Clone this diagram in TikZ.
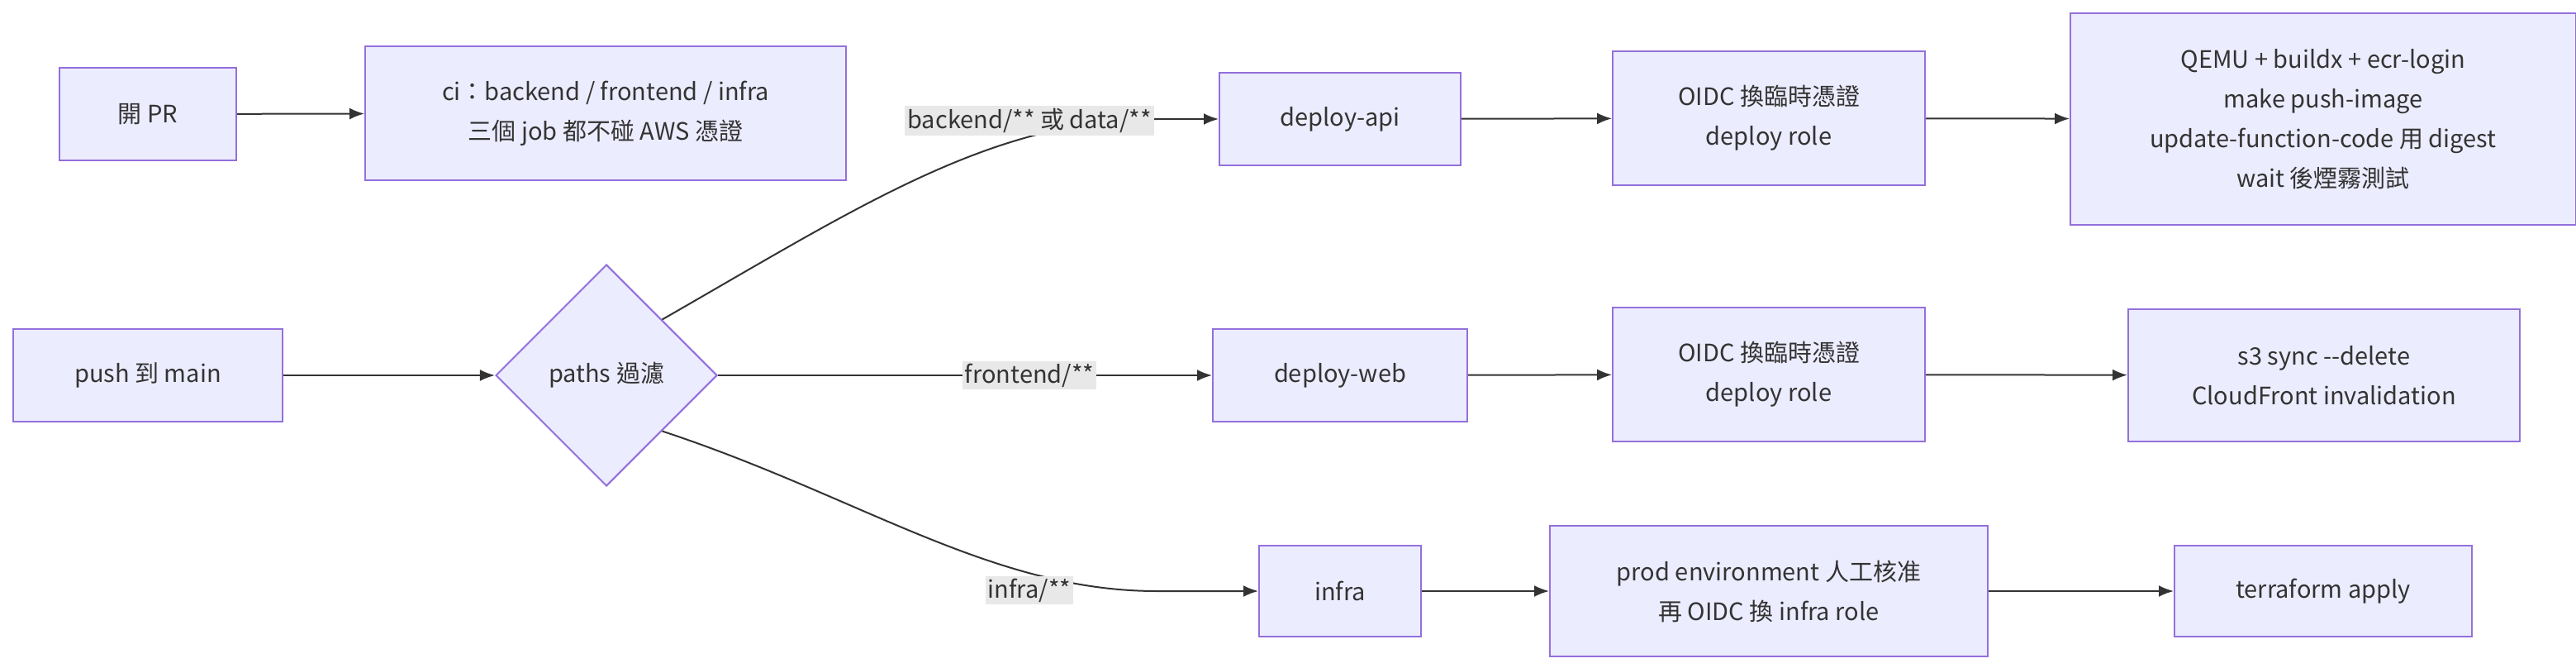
\documentclass[tikz,border=0pt]{standalone}
\usepackage{fontspec}
\setmainfont{Noto Sans CJK TC}
\usetikzlibrary{shapes.geometric,arrows.meta}
\definecolor{nfill}{HTML}{ECECFF}
\definecolor{nline}{HTML}{9370DB}
\definecolor{eline}{HTML}{333333}
\definecolor{lbg}{HTML}{E8E8E8}
\begin{document}
\begin{tikzpicture}[x=1pt,y=-1pt,
  box/.style={draw=nline,fill=nfill,line width=1pt,align=center,inner sep=0pt,font=\fontsize{14.5}{24}\selectfont,text=eline},
  dia/.style={diamond,draw=nline,fill=nfill,line width=1pt,inner sep=0pt,minimum width=134pt,minimum height=134pt,aspect=1,font=\fontsize{14.5}{24}\selectfont,text=eline},
  lab/.style={fill=lbg,inner sep=1.5pt,font=\fontsize{14.5}{18}\selectfont,text=eline},
  arr/.style={draw=eline,line width=1pt,-{Latex[length=9pt,width=7pt]}}]
\useasboundingbox (0,0) rectangle (1559,404);
\node[box,minimum width=107pt,minimum height=56pt] (pr) at (89.5,69) {開 PR};
\node[box,minimum width=291pt,minimum height=81pt] (ci) at (366.5,68.5) {ci：backend / frontend / infra\\三個 job 都不碰 AWS 憑證};
\node[box,minimum width=163pt,minimum height=56pt] (push) at (89.5,227) {push 到 main};
\node[dia] (paths) at (367,227) {paths 過濾};
\node[box,minimum width=146pt,minimum height=56pt] (api) at (811,72) {deploy-api};
\node[box,minimum width=189pt,minimum height=81pt] (o1) at (1070.5,71.5) {OIDC 換臨時憑證\\deploy role};
\node[box,minimum width=306pt,minimum height=128pt] (q) at (1406,72) {QEMU + buildx + ecr-login\\make push-image\\update-function-code 用 digest\\wait 後煙霧測試};
\node[box,minimum width=154pt,minimum height=56pt] (web) at (811,227) {deploy-web};
\node[box,minimum width=189pt,minimum height=81pt] (o2) at (1070.5,226.5) {OIDC 換臨時憑證\\deploy role};
\node[box,minimum width=237pt,minimum height=80pt] (s3) at (1406.5,227) {s3 sync -{}-delete\\CloudFront invalidation};
\node[box,minimum width=98pt,minimum height=55pt] (inf) at (811,357.5) {infra};
\node[box,minimum width=265pt,minimum height=79pt] (prod) at (1070.5,357.5) {prod environment 人工核准\\再 OIDC 換 infra role};
\node[box,minimum width=180pt,minimum height=55pt] (tf) at (1406,357.5) {terraform apply};
\coordinate (c1) at (700,72);
\coordinate (c3) at (700,357.5);
\draw[arr] (pr) -- (ci);
\draw[arr] (push) -- (paths);
\draw[arr] (paths.north east) .. controls (520,125) and (600,72) .. (c1) -- (api);
\draw[arr] (paths) -- (web);
\draw[arr] (paths.south east) .. controls (520,300) and (600,357.5) .. (c3) -- (inf);
\node[lab] at (623,73) {backend/** 或 data/**};
\node[lab] at (623,227) {frontend/**};
\node[lab] at (623,357) {infra/**};
\draw[arr] (api) -- (o1);
\draw[arr] (o1) -- (q);
\draw[arr] (web) -- (o2);
\draw[arr] (o2) -- (s3);
\draw[arr] (inf) -- (prod);
\draw[arr] (prod) -- (tf);
\end{tikzpicture}
\end{document}
